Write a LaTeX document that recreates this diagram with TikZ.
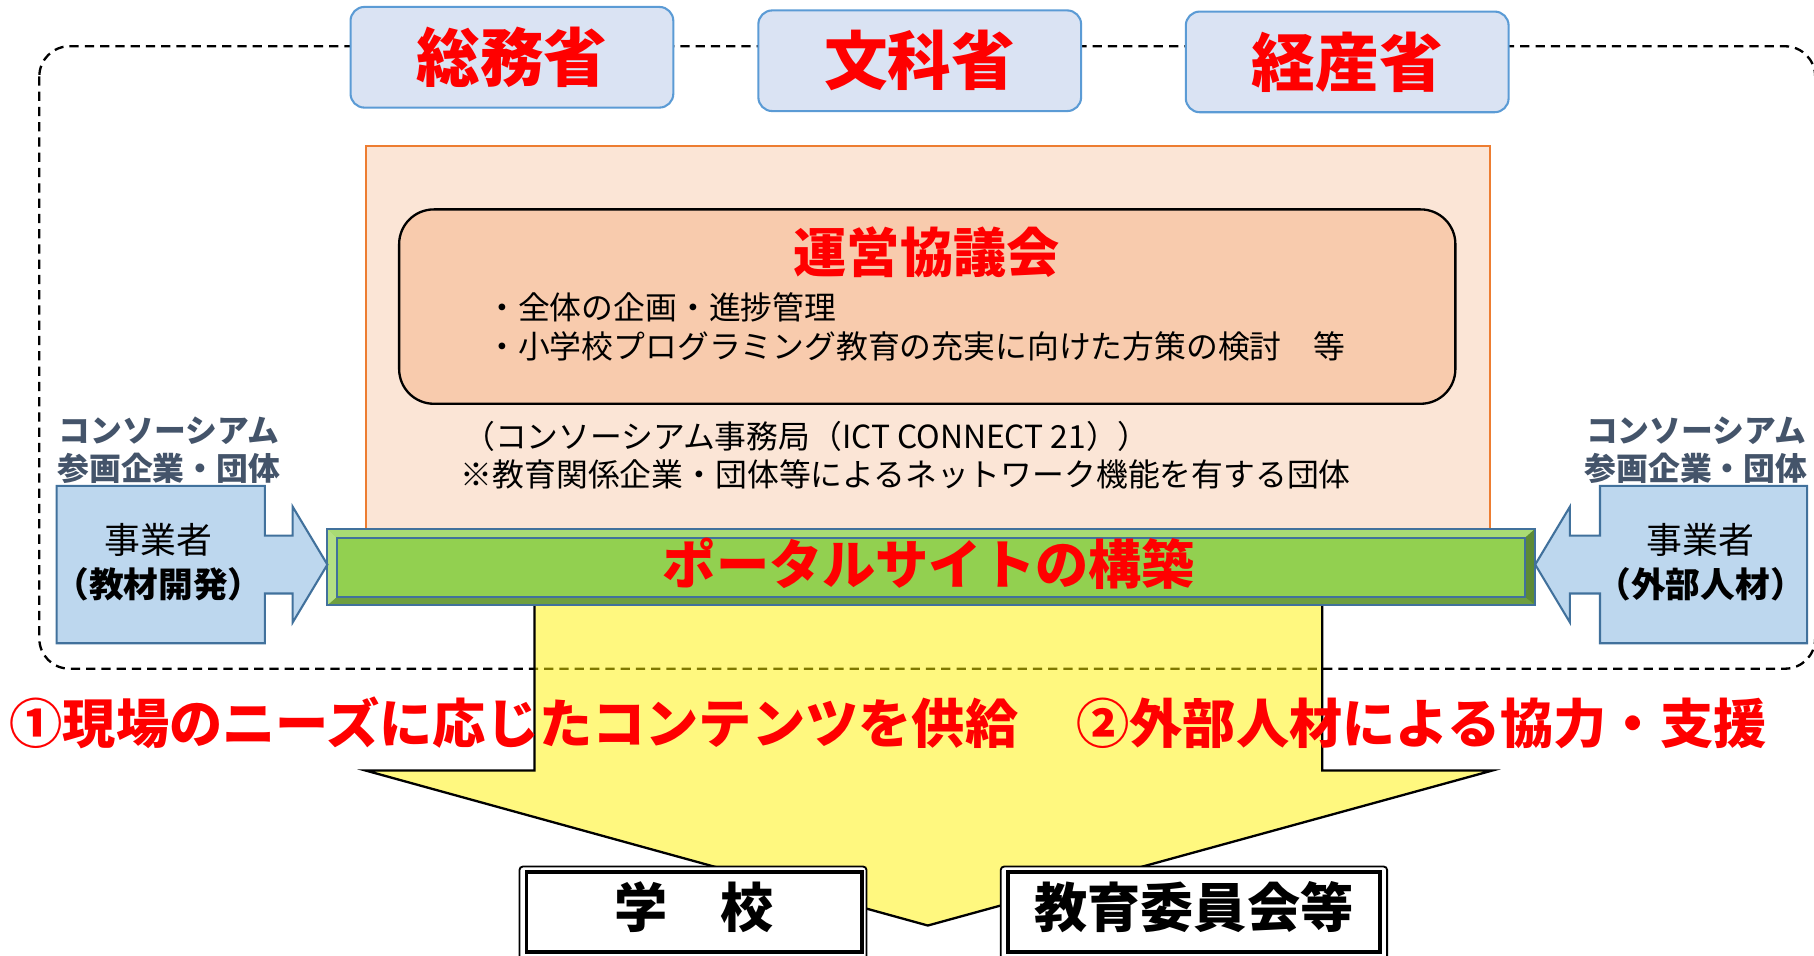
\documentclass[tikz,border=0pt]{standalone}
\usepackage{fontspec}
\setmainfont{Noto Sans CJK JP}
\definecolor{minfill}{HTML}{DAE3F3}
\definecolor{minline}{HTML}{5B9BD5}
\definecolor{orfill}{HTML}{FBE5D6}
\definecolor{orline}{HTML}{ED7D31}
\definecolor{cofill}{HTML}{F8CBAD}
\definecolor{labc}{HTML}{44546A}
\definecolor{bfill}{HTML}{BDD7EE}
\definecolor{bline}{HTML}{41719C}
\definecolor{gmain}{HTML}{92D050}
\definecolor{gtop}{HTML}{A9DB74}
\definecolor{gbot}{HTML}{6E9F3F}
\definecolor{gleft}{HTML}{B4E083}
\definecolor{gright}{HTML}{5D8A35}
\definecolor{redt}{HTML}{FF0000}
\tikzset{
  ministry/.style={draw=minline, fill=minfill, line width=0.9pt, rounded corners=6pt,
    minimum width=139.5pt, minimum height=43.5pt, inner sep=0pt,
    font=\bfseries\fontsize{27.5}{30}\selectfont, text=redt},
  bigred/.style={inner sep=0pt, font=\bfseries\fontsize{23}{26}\selectfont, text=redt},
  bigblack/.style={inner sep=0pt, font=\bfseries\fontsize{23}{26}\selectfont, text=black},
  body/.style={inner sep=0pt, font=\fontsize{13.75}{16}\selectfont, text=black},
  lab/.style={inner sep=0pt, font=\bfseries\fontsize{13.75}{16}\selectfont, text=labc},
  biz/.style={inner sep=0pt, font=\fontsize{15.5}{18}\selectfont, text=black},
  bizb/.style={inner sep=0pt, font=\bfseries\fontsize{15}{18}\selectfont, text=black},
  sideblock/.style={draw=bline, fill=bfill, line width=0.9pt, line join=miter},
  outerframe/.style={draw=black, fill=white, line width=0.8pt, rounded corners=1.5pt},
  innerframe/.style={draw=black, line width=1.6pt},
}
\begin{document}
\begin{tikzpicture}[x=0.5pt,y=-0.5pt]
\useasboundingbox (0,0) rectangle (1568,826);
% dashed consortium frame
\draw[line width=1pt, dash pattern=on 4pt off 2.6pt, rounded corners=13pt] (34,40) rectangle (1569,578);
% ministries
\node[ministry] (somu) at (442.5,49.5) {\raisebox{2pt}{総務省}};
\node[ministry] (monka) at (795,52.5) {\raisebox{2.5pt}{文科省}};
\node[ministry] (keisan) at (1164.5,53.5) {\raisebox{2.5pt}{経産省}};
% secretariat box
\node[draw=orline, fill=orfill, line width=0.9pt, minimum width=486pt, minimum height=172pt, inner sep=0pt] (jimu) at (802,298) {};
% council box
\node[draw=black, fill=cofill, line width=1pt, rounded corners=15pt, minimum width=456.5pt, minimum height=84pt, inner sep=0pt] (council) at (801.5,265) {};
\node[bigred] (counciltitle) at (801,218) {運営協議会};
\node[body, anchor=west] (b1) at (420,266) {・全体の企画・進捗管理};
\node[body, anchor=west] (b2) at (420,299) {・小学校プログラミング教育の充実に向けた方策の検討　等};
\node[body, anchor=west] (s1) at (400,377) {（コンソーシアム事務局（ICT CONNECT 21））};
\node[body, anchor=west] (s2) at (398,410) {※教育関係企業・団体等によるネットワーク機能を有する団体};
% yellow arrow
\path[fill=yellow, fill opacity=0.5, draw=black, line width=1pt, line join=miter]
  (462,512) -- (462,666) -- (316,666) -- (802,800) -- (1290,666) -- (1143,666) -- (1143,512) -- cycle;
% portal bar (bevel)
\fill[gmain] (283,457) rectangle (1327,523);
\fill[gtop] (283,457) -- (1327,457) -- (1318,465) -- (291,465) -- cycle;
\fill[gbot] (283,523) -- (1327,523) -- (1318,516) -- (291,516) -- cycle;
\fill[gleft] (283,457) -- (291,465) -- (291,516) -- (283,523) -- cycle;
\fill[gright] (1327,457) -- (1318,465) -- (1318,516) -- (1327,523) -- cycle;
\draw[bline, line width=0.9pt] (283,457) rectangle (1327,523);
\draw[bline, line width=0.9pt] (291,465) rectangle (1318,516);
\node[bigred] (portal) at (803,487) {ポータルサイトの構築};
% side blocks
\path[sideblock] (49,420) -- (229,420) -- (229,463) -- (253,463) -- (253,438) -- (283,488)
  -- (253,538) -- (253,513) -- (229,513) -- (229,556) -- (49,556) -- cycle;
\path[sideblock] (1562,420) -- (1383,420) -- (1383,463) -- (1357,463) -- (1357,438) -- (1327,488)
  -- (1357,538) -- (1357,513) -- (1383,513) -- (1383,556) -- (1562,556) -- cycle;
\node[biz] (lbiz) at (137,467) {事業者};
\node[bizb] (lbizb) at (137,505) {（教材開発）};
\node[biz] (rbiz) at (1470,467) {事業者};
\node[bizb] (rbizb) at (1470,505) {（外部人材）};
\node[lab] (llab1) at (146,372) {コンソーシアム};
\node[lab] (llab2) at (146,405) {参画企業・団体};
\node[lab] (rlab1) at (1466,372) {コンソーシアム};
\node[lab] (rlab2) at (1466,405) {参画企業・団体};
% red statements
\node[bigred, anchor=west] (st1) at (8,625) {①現場のニーズに応じたコンテンツを供給};
\node[bigred, anchor=west] (st2) at (930,625) {②外部人材による協力・支援};
% bottom boxes
\path[outerframe] (449,749) rectangle (749,832);
\draw[innerframe] (455,754) rectangle (745,823);
\node[bigblack] (school) at (600,784) {学　校};
\path[outerframe] (865,749) rectangle (1199,832);
\draw[innerframe] (871,754) rectangle (1193,823);
\node[bigblack] (board) at (1032,784) {教育委員会等};
\end{tikzpicture}
\end{document}
